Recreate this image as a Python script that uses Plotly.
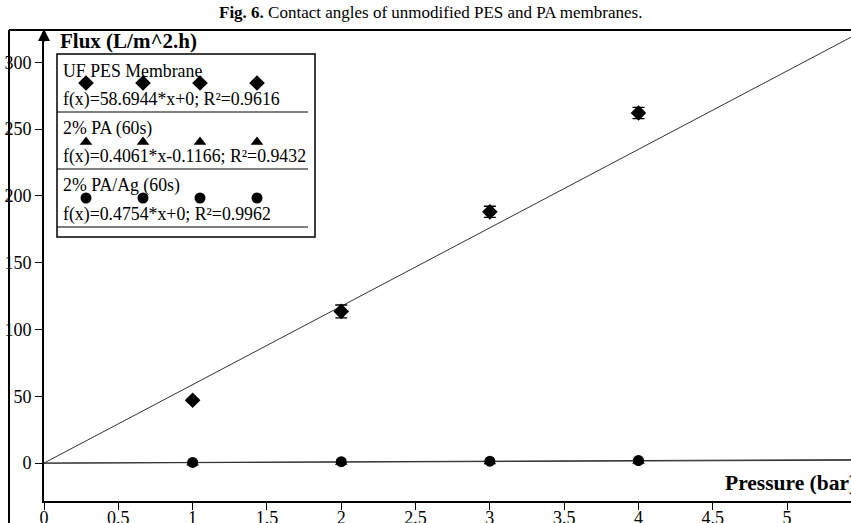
import plotly.graph_objects as go

# ---------------- data ----------------
pressure = [1, 2, 3, 4]
pes_flux = [47.0, 113.5, 188.0, 262.0]
pes_err = [1.0, 4.8, 4.2, 4.2]
pa_flux = [0.3, 0.7, 1.1, 1.5]
pa_err = [0.4, 0.4, 0.4, 0.4]
paag_flux = [0.5, 1.0, 1.4, 1.9]
paag_err = [0.4, 0.4, 0.4, 0.4]

series_names = ["UF PES Membrane", "2% PA (60s)", "2% PA/Ag (60s)"]
fit_labels = ["f(x)=58.6944*x+0; R²=0.9616",
              "f(x)=0.4061*x-0.1166; R²=0.9432",
              "f(x)=0.4754*x+0; R²=0.9962"]
fit_slope = [58.6944, 0.4061, 0.4754]
fit_icpt = [0.0, -0.1166, 0.0]
fit_x = [0, 5.6]

x_ticks = [0, 0.5, 1, 1.5, 2, 2.5, 3, 3.5, 4, 4.5, 5]
y_ticks = [0, 50, 100, 150, 200, 250, 300]
x_range = [0, 5.43]
y_range = [-28.4, 322.6]

# ---------------- layout constants (pixels) ----------------
W, H = 851, 523
PL, PR, PT, PB = 44, 851, 32, 501
FONT = "Liberation Serif"


def fx(px):
    return (px - PL) / (PR - PL)


def fy(py):
    return (PB - py) / (PB - PT)


fig = go.Figure()

# trend lines
for s, b in zip(fit_slope, fit_icpt):
    fig.add_trace(go.Scatter(
        x=fit_x, y=[s * x + b for x in fit_x], mode="lines",
        line=dict(color="#333333", width=1), showlegend=False, hoverinfo="skip"))

# data series
fig.add_trace(go.Scatter(
    x=pressure, y=pa_flux, mode="markers",
    marker=dict(symbol="triangle-up", size=11, color="black"),
    error_y=dict(type="data", array=pa_err, color="black", thickness=1, width=4),
    showlegend=False))
fig.add_trace(go.Scatter(
    x=pressure, y=paag_flux, mode="markers",
    marker=dict(symbol="circle", size=11, color="black"),
    error_y=dict(type="data", array=paag_err, color="black", thickness=1, width=4),
    showlegend=False))
fig.add_trace(go.Scatter(
    x=pressure, y=pes_flux, mode="markers",
    marker=dict(symbol="diamond", size=12, color="black"),
    error_y=dict(type="data", array=pes_err, color="black", thickness=1.3, width=6),
    showlegend=False))

# ---------------- custom legend ----------------
leg_marker_px = [86, 143, 200, 257]
leg_row_px = [83, 142, 198]
leg_symbols = ["diamond", "triangle-up", "circle"]
leg_sizes = [12, 11, 11]
for yy, sym, sz in zip(leg_row_px, leg_symbols, leg_sizes):
    fig.add_trace(go.Scatter(
        x=[fx(p) for p in leg_marker_px], y=[fy(yy)] * len(leg_marker_px),
        xaxis="x2", yaxis="y2", mode="markers",
        marker=dict(symbol=sym, size=sz, color="black"),
        showlegend=False, hoverinfo="skip", cliponaxis=False))

shapes = []
# page frame lines
shapes.append(dict(type="line", xref="paper", yref="paper",
                   x0=fx(9), x1=fx(W + 5), y0=fy(30), y1=fy(30),
                   line=dict(color="black", width=2)))
shapes.append(dict(type="line", xref="paper", yref="paper",
                   x0=fx(9), x1=fx(9), y0=fy(30), y1=fy(H + 5),
                   line=dict(color="black", width=2)))
# legend box
shapes.append(dict(type="rect", xref="paper", yref="paper",
                   x0=fx(57), x1=fx(315), y0=fy(54), y1=fy(237),
                   line=dict(color="black", width=1.5), fillcolor="white",
                   layer="below"))
for yy in [112, 169, 227]:
    shapes.append(dict(type="line", xref="paper", yref="paper",
                       x0=fx(57), x1=fx(308), y0=fy(yy), y1=fy(yy),
                       line=dict(color="black", width=1)))

annotations = []
name_row_px = [71, 128, 186]
fit_row_px = [99, 157, 214]
for nm, fl, yn, yf in zip(series_names, fit_labels, name_row_px, fit_row_px):
    annotations.append(dict(text=nm, xref="paper", yref="paper", x=fx(61), y=fy(yn),
                            xanchor="left", yanchor="middle", showarrow=False,
                            font=dict(family=FONT, size=17.8, color="black")))
    annotations.append(dict(text=fl, xref="paper", yref="paper", x=fx(61), y=fy(yf),
                            xanchor="left", yanchor="middle", showarrow=False,
                            font=dict(family=FONT, size=17.8, color="black")))

# axis titles
annotations.append(dict(text="<b>Flux (L/m^2.h)</b>", xref="paper", yref="paper",
                        x=fx(58), y=fy(41), xanchor="left", yanchor="middle",
                        showarrow=False, font=dict(family=FONT, size=21, color="black")))
annotations.append(dict(text="<b>Pressure (bar)</b>", xref="paper", yref="paper",
                        x=fx(723), y=fy(483), xanchor="left", yanchor="middle",
                        showarrow=False, font=dict(family=FONT, size=21.5, color="black")))
# figure caption
annotations.append(dict(text="<b>Fig. 6.</b> Contact angles of unmodified PES and PA membranes.",
                        xref="paper", yref="paper", x=fx(430), y=fy(12),
                        xanchor="center", yanchor="middle", showarrow=False,
                        font=dict(family=FONT, size=17, color="black")))
# arrow on y axis
annotations.append(dict(text="", xref="paper", yref="paper", x=0, y=fy(29),
                        ax=0, ay=14, axref="pixel", ayref="pixel",
                        showarrow=True, arrowhead=2, arrowsize=1.2, arrowwidth=2,
                        arrowcolor="black"))

fig.update_layout(
    width=W, height=H,
    margin=dict(l=PL, r=W - PR, t=PT, b=H - PB, pad=0, autoexpand=False),
    paper_bgcolor="white", plot_bgcolor="white",
    showlegend=False,
    font=dict(family=FONT, size=18, color="black"),
    xaxis=dict(range=x_range, tickvals=x_ticks, ticktext=[str(t) for t in x_ticks],
               showgrid=False, zeroline=False, showline=True, linecolor="black",
               linewidth=2, ticks="outside", ticklen=7, tickwidth=1.2, tickcolor="black",
               automargin=False, ticklabelstandoff=-8,
               tickfont=dict(family=FONT, size=18, color="black")),
    yaxis=dict(range=y_range, tickvals=y_ticks, showgrid=False, zeroline=False,
               showline=True, linecolor="black", linewidth=2, ticks="outside",
               ticklen=7, tickwidth=1.2, tickcolor="black", automargin=False,
               tickfont=dict(family=FONT, size=18, color="black")),
    # inner half of the crossing x ticks
    xaxis3=dict(range=x_range, tickvals=x_ticks, overlaying="x", anchor="y",
                side="bottom", showgrid=False, zeroline=False, showline=False,
                ticks="inside", ticklen=6, tickwidth=1.2, tickcolor="black",
                showticklabels=False, automargin=False, fixedrange=True),
    xaxis2=dict(range=[0, 1], overlaying="x", visible=False, fixedrange=True),
    yaxis2=dict(range=[0, 1], overlaying="y", visible=False, fixedrange=True),
    shapes=shapes,
    annotations=annotations,
)

fig.write_html("out.html",
               config={"displayModeBar": False},
               post_script="document.body.style.margin='0';document.body.style.padding='0';")
